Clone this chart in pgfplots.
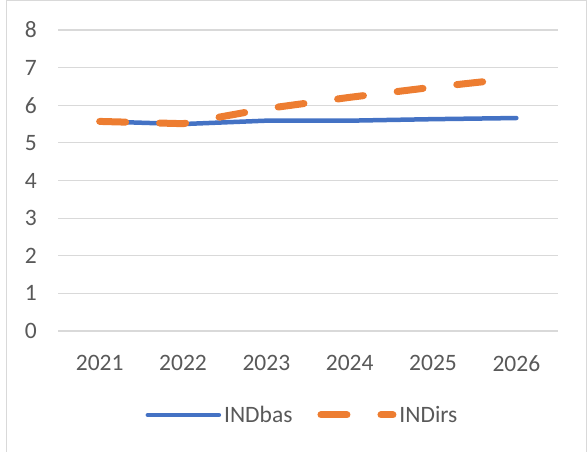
\documentclass[border=0pt]{standalone}
\usepackage{pgfplots}
\pgfplotsset{compat=1.18}
\usepackage{fontspec}
\setmainfont{Carlito}
\definecolor{xlblue}{HTML}{4472C4}
\definecolor{xlorange}{HTML}{ED7D31}
\definecolor{xlgrid}{HTML}{D9D9D9}
\definecolor{xltext}{HTML}{595959}
\definecolor{xlborder}{HTML}{D9D9D9}
\pgfplotsset{
  leglong/.style={legend image code/.code={\draw[##1] (0bp,0bp) -- (71bp,0bp);}},
  legdash/.style={legend image code/.code={\draw[##1] (0bp,0bp) -- (72bp,0bp);}},
}
\begin{document}
\begin{tikzpicture}[x=1bp,y=1bp]
\path[use as bounding box] (0,0) rectangle (587,452);
\draw[xlborder, line width=1bp] (6,0) -- (6,451) -- (586,451) -- (586,0);
\begin{axis}[
  at={(58bp,121bp)}, anchor=south west,
  scale only axis, width=500bp, height=301bp,
  xmin=-0.5, xmax=5.5, ymin=0, ymax=8,
  xtick={0,1,2,3,4,5},
  xticklabels={2021,2022,2023,2024,2025,2026},
  ytick={0,1,2,3,4,5,6,7,8},
  ymajorgrids, grid style={xlgrid, line width=1.2bp},
  axis line style={draw=none},
  major tick length=0pt,
  /pgf/number format/assume math mode=true,
  tick label style={font=\fontsize{23.5bp}{28bp}\selectfont, text=xltext, inner sep=0pt},
  yticklabel style={anchor=east, xshift=-21bp},
  xticklabel style={anchor=north, yshift=-24bp},
  clip=false,
  legend columns=2,
  legend style={at={(0.49,-0.279)}, anchor=center, draw=none, fill=none,
    font=\fontsize{23.5bp}{28bp}\selectfont, text=xltext,
    nodes={inner sep=3bp},
    /tikz/every even column/.append style={column sep=22bp}},
]
\addplot[xlblue, line width=4.5bp, line cap=round, line join=round, leglong]
  coordinates {(0,5.57) (1,5.50) (2,5.59) (3,5.59) (4,5.63) (5,5.66)};
\addlegendentry{INDbas}
\addplot[xlorange, line width=7bp, line cap=round, line join=round,
  dash pattern=on 26bp off 34bp, legdash]
  coordinates {(0,5.57) (1,5.51) (2,5.91) (3,6.21) (4,6.48) (5,6.72)};
\addlegendentry{INDirs}
\end{axis}
\end{tikzpicture}
\end{document}
